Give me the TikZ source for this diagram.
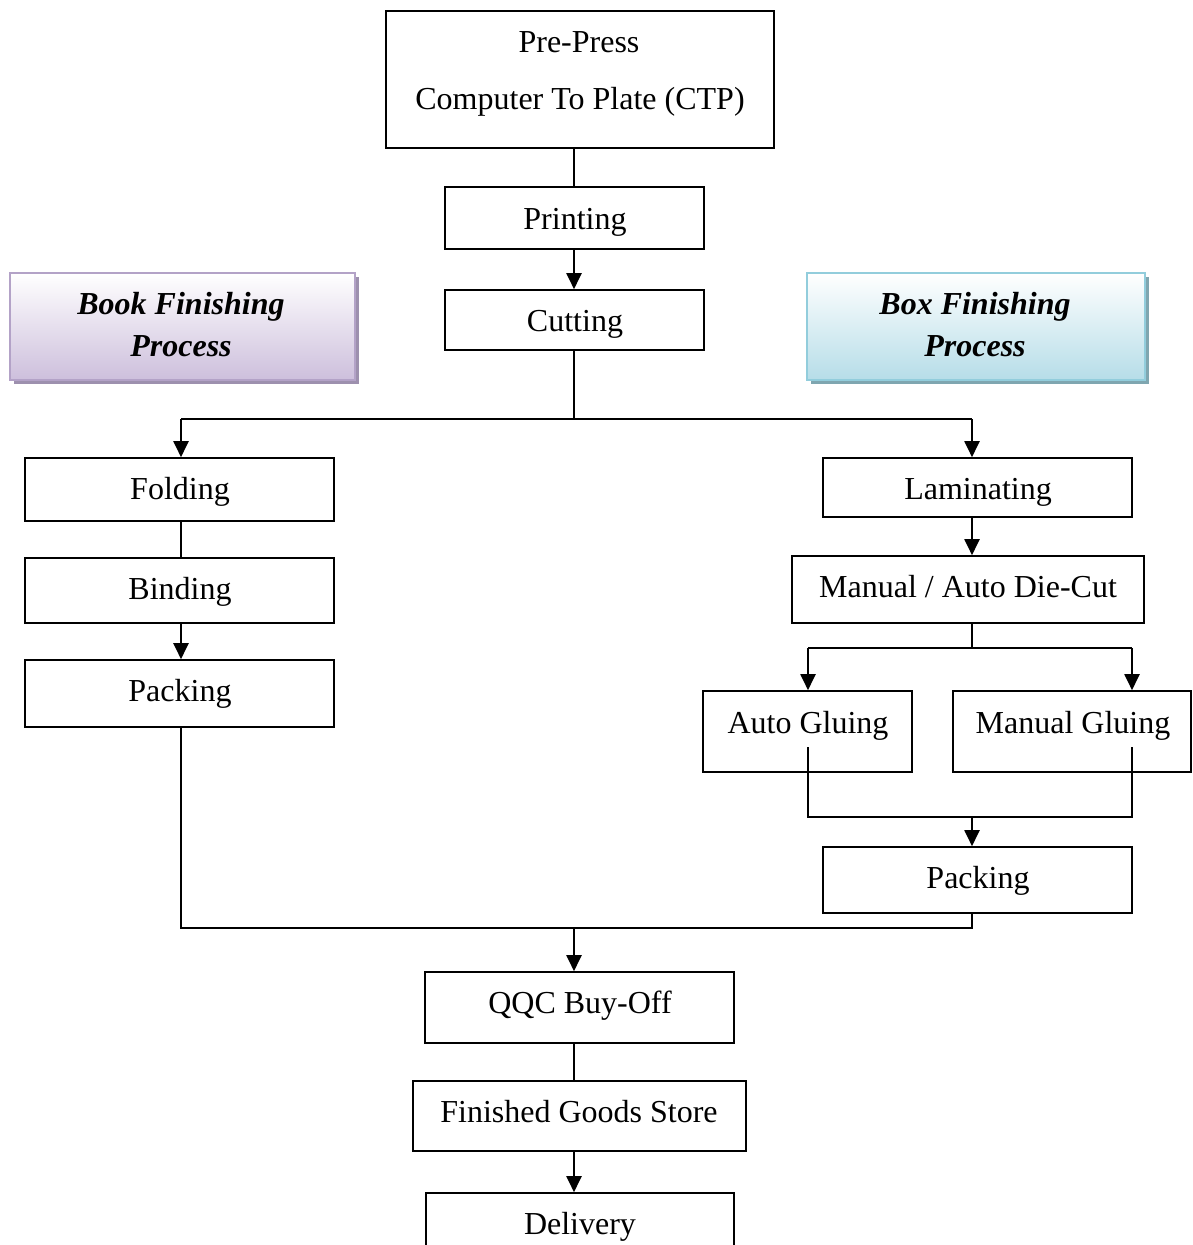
\documentclass[tikz,border=0pt]{standalone}
\usepackage{fontspec}
\setmainfont{Liberation Serif}
\usetikzlibrary{arrows.meta}
\definecolor{bookborder}{HTML}{B3A2C7}
\definecolor{bookfill}{HTML}{CDBFDC}
\definecolor{bookshadow}{HTML}{9D90AE}
\definecolor{boxborder}{HTML}{92CDDC}
\definecolor{boxfill}{HTML}{B6DDE8}
\definecolor{boxshadow}{HTML}{7FA6B0}
\begin{document}
\begin{tikzpicture}[x=1pt,y=-1pt,
  stepbox/.style={draw, line width=1.6pt, inner sep=0pt},
  txt/.style={inner sep=0pt, anchor=base, font=\fontsize{32}{38}\selectfont},
  hdrtxt/.style={inner sep=0pt, anchor=base, font=\fontsize{32}{38}\selectfont\bfseries\itshape},
  ln/.style={line width=2pt},
  arr/.style={line width=2pt,-{Triangle[length=16pt,width=15pt]}}]
\useasboundingbox (0,0) rectangle (1192,1245);

% header boxes
\fill[bookshadow] (14,277) rectangle (359,384);
\node[draw=bookborder, line width=2pt, top color=white, bottom color=bookfill, minimum width=345pt, minimum height=107pt, inner sep=0pt] (book) at (182.5,326.5) {};
\node[hdrtxt] (bookt1) at (181,314) {Book Finishing};
\node[hdrtxt] (bookt2) at (181,356) {Process};
\fill[boxshadow] (811,277) rectangle (1149,384);
\node[draw=boxborder, line width=2pt, top color=white, bottom color=boxfill, minimum width=338pt, minimum height=107pt, inner sep=0pt] (boxh) at (976,326.5) {};
\node[hdrtxt] (boxt1) at (975,314) {Box Finishing};
\node[hdrtxt] (boxt2) at (975,356) {Process};

% boxes
\node[stepbox, minimum width=388pt, minimum height=137pt] (pre) at (580,79.5) {};
\node[txt] (pret1) at (579,52) {Pre-Press};
\node[txt] (pret2) at (580,109) {Computer To Plate (CTP)};
\node[stepbox, minimum width=259pt, minimum height=62pt] (print) at (574.5,218) {};
\node[txt] (printt) at (575,229) {Printing};
\node[stepbox, minimum width=259pt, minimum height=60pt] (cut) at (574.5,320) {};
\node[txt] (cutt) at (575,331) {Cutting};

\node[stepbox, minimum width=309pt, minimum height=63pt] (fold) at (179.5,489.5) {};
\node[txt] (foldt) at (180,499) {Folding};
\node[stepbox, minimum width=309pt, minimum height=65pt] (bind) at (179.5,590.5) {};
\node[txt] (bindt) at (180,599) {Binding};
\node[stepbox, minimum width=309pt, minimum height=67pt] (packL) at (179.5,693.5) {};
\node[txt] (packLt) at (180,701) {Packing};

\node[stepbox, minimum width=309pt, minimum height=59pt] (lam) at (977.5,487.5) {};
\node[txt] (lamt) at (978,499) {Laminating};
\node[stepbox, minimum width=352pt, minimum height=67pt] (die) at (968,589.5) {};
\node[txt] (diet) at (968,597) {Manual / Auto Die-Cut};
\node[stepbox, minimum width=209pt, minimum height=81pt] (auto) at (807.5,731.5) {};
\node[txt] (autot) at (808,733) {Auto Gluing};
\node[stepbox, minimum width=238pt, minimum height=81pt] (man) at (1072,731.5) {};
\node[txt] (mant) at (1073,733) {Manual Gluing};
\node[stepbox, minimum width=309pt, minimum height=66pt] (packR) at (977.5,880) {};
\node[txt] (packRt) at (978,888) {Packing};

\node[stepbox, minimum width=309pt, minimum height=71pt] (qqc) at (579.5,1007.5) {};
\node[txt] (qqct) at (580,1013) {QQC Buy-Off};
\node[stepbox, minimum width=333pt, minimum height=70pt] (fgs) at (579.5,1116) {};
\node[txt] (fgst) at (579,1122) {Finished Goods Store};
\node[stepbox, minimum width=308pt, minimum height=70pt] (del) at (580,1228) {};
\node[txt] (delt) at (580,1234) {Delivery};

% coordinates
\coordinate (trunk) at (574,419);
\coordinate (sL) at (181,419);
\coordinate (sR) at (972,419);
\coordinate (dsplit) at (972,648);
\coordinate (gL) at (808,648);
\coordinate (gR) at (1132,648);
\coordinate (aIn) at (808,747);
\coordinate (mIn) at (1132,747);
\coordinate (gjL) at (808,817);
\coordinate (gjR) at (1132,817);
\coordinate (gj) at (972,817);
\coordinate (mR) at (972,928);
\coordinate (mL) at (181,928);
\coordinate (mC) at (574,928);

% connectors
\draw[ln] (pre.south -| trunk) -- (print.north -| trunk);
\draw[arr] (print.south -| trunk) -- (cut.north -| trunk);
\draw[ln] (cut.south -| trunk) -- (trunk);
\draw[ln] (sL) -- (sR);
\draw[arr] (sL) -- (fold.north -| sL);
\draw[arr] (sR) -- (lam.north -| sR);
\draw[ln] (fold.south -| sL) -- (bind.north -| sL);
\draw[arr] (bind.south -| sL) -- (packL.north -| sL);
\draw[arr] (lam.south -| sR) -- (die.north -| sR);
\draw[ln] (die.south -| dsplit) -- (dsplit);
\draw[ln] (gL) -- (gR);
\draw[arr] (gL) -- (auto.north -| gL);
\draw[arr] (gR) -- (man.north -| gR);
\draw[ln] (aIn) -- (gjL) -- (gjR) -- (mIn);
\draw[arr] (gj) -- (packR.north -| gj);
\draw[ln] (packR.south -| mR) -- (mR) -- (mL) -- (packL.south -| mL);
\draw[arr] (mC) -- (qqc.north -| mC);
\draw[ln] (qqc.south -| mC) -- (fgs.north -| mC);
\draw[arr] (fgs.south -| mC) -- (del.north -| mC);
\end{tikzpicture}
\end{document}
